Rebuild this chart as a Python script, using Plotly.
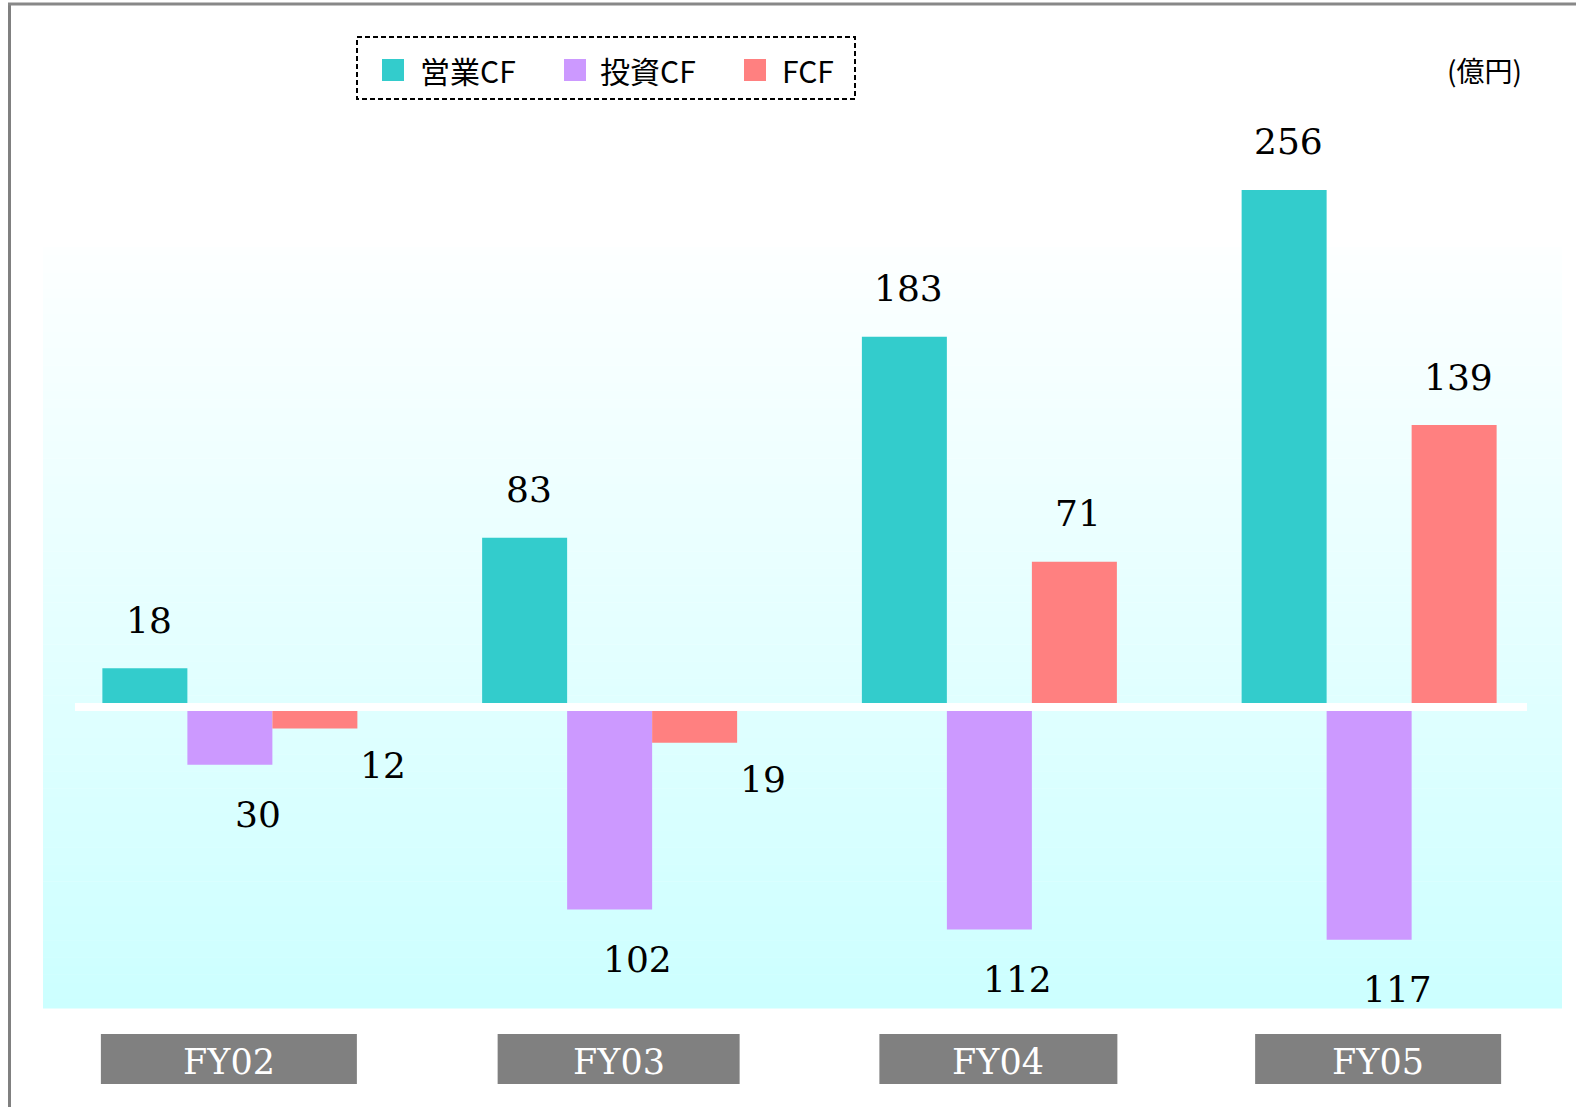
import plotly.graph_objects as go

# ---------------- data ----------------
categories = ["FY02", "FY03", "FY04", "FY05"]
operating_cf = [18, 83, 183, 256]      # 営業CF
investing_cf = [-30, -102, -112, -117]  # 投資CF
free_cf = [-12, -19, 71, 139]           # FCF
series_names = ["営業CF", "投資CF", "FCF"]
unit_label = "(億円)"

# ---------------- style ----------------
colors = ["#33CCCC", "#CC99FF", "#FF8080"]
num_font = "DejaVu Serif"
jp_font = "Noto Sans CJK JP"

W, H = 1576, 1107
L, R, T, B = 40, 17, 100, 99
PW = W - L - R
PH = H - T - B
ZERO_PX = 704.5
SCALE = 2.01  # px per unit
y_top = (ZERO_PX - T) / SCALE
y_bot = -(T + PH - ZERO_PX) / SCALE

GROUP_W = 255.0
CAT_W = PW / len(categories)
BAR_W = GROUP_W / 3


def px(xp):
    return (xp - L) / PW


def py(yp):
    return (T + PH - yp) / PH


fig = go.Figure()
all_series = [operating_cf, investing_cf, free_cf]
for name, vals, col in zip(series_names, all_series, colors):
    fig.add_trace(go.Bar(
        x=categories, y=vals, name=name, marker=dict(color=col, line=dict(width=0)),
        showlegend=False, hoverinfo="x+y+name",
    ))

annotations = []
# value labels
neg_offsets = [(28, -50), (28, -50), (68, -37)]
for i, vals in enumerate(all_series):
    off = (i - 1) * BAR_W
    for cat, v in zip(categories, vals):
        if v >= 0:
            xs, ys = off + 4, 48
        else:
            xs, ys = off + neg_offsets[i][0], neg_offsets[i][1]
        annotations.append(dict(
            x=cat, y=v, xref="x", yref="y", text=str(abs(v)), showarrow=False,
            xshift=xs, yshift=ys, xanchor="center", yanchor="middle",
            font=dict(family=num_font, size=36, color="black"),
        ))

shapes = []

# category label boxes
box_widths = [256, 242, 238, 246]
box_xshift = [-1, 9, 9, 9]
for idx, (cat, bw, xs) in enumerate(zip(categories, box_widths, box_xshift)):
    c = idx + xs / CAT_W
    half = bw / 2 / CAT_W
    shapes.append(dict(
        type="rect", xref="x", yref="paper", x0=c - half, x1=c + half,
        y0=py(1034), y1=py(1084), fillcolor="#808080", line=dict(width=0), layer="above",
    ))
    annotations.append(dict(
        x=cat, y=py(1062), xref="x", yref="paper", text=cat, showarrow=False,
        xshift=xs, xanchor="center", yanchor="middle",
        font=dict(family=num_font, size=35, color="white"),
    ))

# legend (manual)
legend_sq_x = [382, 564, 744]
legend_tx_x = [418, 598, 780]
for name, col, sx, tx in zip(series_names, colors, legend_sq_x, legend_tx_x):
    annotations.append(dict(
        x=px(tx), y=py(70), xref="paper", yref="paper", text=name, showarrow=False,
        xanchor="left", yanchor="middle", font=dict(family=jp_font, size=30, color="black"),
    ))

annotations.append(dict(
    x=px(1484), y=py(70), xref="paper", yref="paper", text=unit_label, showarrow=False,
    xanchor="center", yanchor="middle", font=dict(family=jp_font, size=28, color="black"),
))

# gradient background
g_top, g_bot, g_left, g_right = 247, 1008, 43, 1562
n = 90
c0 = (253, 255, 255)
c1 = (204, 255, 255)
for k in range(n):
    y0 = g_top + (g_bot - g_top) * k / n
    y1 = g_top + (g_bot - g_top) * (k + 1) / n
    f = (k + 0.5) / n
    c = tuple(round(a + (b - a) * f) for a, b in zip(c0, c1))
    shapes.append(dict(
        type="rect", xref="paper", yref="paper", x0=px(g_left), x1=px(g_right),
        y0=py(y0), y1=py(y1) - 0.0005, fillcolor="rgb(%d,%d,%d)" % c,
        line=dict(width=0), layer="below",
    ))

# white zero band
shapes.append(dict(
    type="rect", xref="paper", yref="y", x0=px(75), x1=px(1527),
    y0=-6.5 / SCALE, y1=1.5 / SCALE, fillcolor="white", line=dict(width=0), layer="above",
))

# legend box and squares
shapes.append(dict(
    type="rect", xref="paper", yref="paper", x0=px(357), x1=px(855), y0=py(37), y1=py(99),
    line=dict(color="black", width=2, dash="5px,3px"), fillcolor="rgba(0,0,0,0)", layer="above",
))
for col, sx in zip(colors, legend_sq_x):
    shapes.append(dict(
        type="rect", xref="paper", yref="paper", x0=px(sx), x1=px(sx + 22), y0=py(59), y1=py(81),
        fillcolor=col, line=dict(width=0), layer="above",
    ))

# outer frame (left and top)
shapes.append(dict(type="line", xref="paper", yref="paper", x0=px(9.5), x1=px(9.5),
                   y0=py(3), y1=py(H + 5), line=dict(color="#808080", width=3), layer="above"))
shapes.append(dict(type="line", xref="paper", yref="paper", x0=px(8), x1=px(W + 5),
                   y0=py(4), y1=py(4), line=dict(color="#888888", width=3), layer="above"))

fig.update_layout(
    width=W, height=H,
    margin=dict(l=L, r=R, t=T, b=B, pad=0),
    paper_bgcolor="white", plot_bgcolor="rgba(0,0,0,0)",
    barmode="group", bargap=1 - GROUP_W / CAT_W, bargroupgap=0,
    xaxis=dict(showticklabels=False, showgrid=False, zeroline=False, showline=False, ticks="",
               range=[-0.5, len(categories) - 0.5]),
    yaxis=dict(range=[y_bot, y_top], showticklabels=False, showgrid=False, zeroline=False,
               showline=False, ticks=""),
    annotations=annotations, shapes=shapes, showlegend=False,
)

fig.write_html(
    "out.html",
    config={"displayModeBar": False},
    post_script="document.body.style.margin='0';document.body.style.overflow='hidden';",
)
